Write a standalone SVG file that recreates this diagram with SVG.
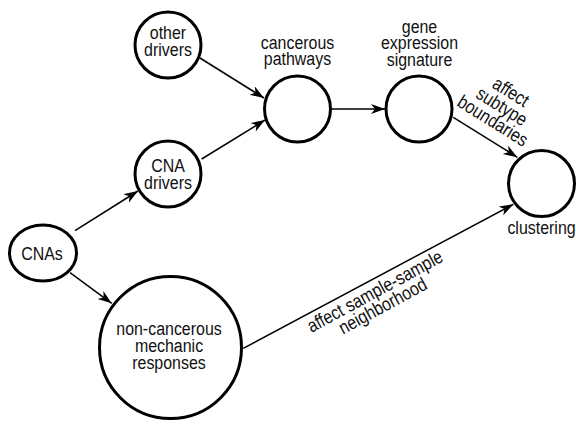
<svg xmlns="http://www.w3.org/2000/svg" width="576" height="424" viewBox="0 0 576 424">
<style>
  .node { fill: #ffffff; stroke: #000000; stroke-width: 3; }
  .lbl { font-family: "Liberation Sans", Arial, Helvetica, sans-serif; font-size: 19px; fill: #111111; text-anchor: middle; }
  .edge { fill: none; stroke: #000000; stroke-width: 1.5; marker-end: url(#arr); }
</style>
<defs>
  <marker id="arr" markerUnits="userSpaceOnUse" markerWidth="16" markerHeight="12" refX="14" refY="5" orient="auto">
    <path d="M0,0 L14,5 L0,10 L4,5 z" fill="#000000"/>
  </marker>
</defs>
<rect width="576" height="424" fill="#ffffff"/>
<g id="connectors">
  <line class="edge" x1="200" y1="58" x2="264" y2="98"/>
  <line class="edge" x1="201.7" y1="159" x2="265" y2="120"/>
  <line class="edge" x1="75" y1="230.7" x2="138" y2="191"/>
  <line class="edge" x1="70" y1="272.7" x2="111.7" y2="303.3"/>
  <line class="edge" x1="332" y1="109" x2="385" y2="109"/>
  <line class="edge" x1="453.3" y1="117.3" x2="517.3" y2="157.3"/>
  <line class="edge" x1="243.3" y1="348.3" x2="513.3" y2="204.3"/>
  <g transform="translate(501.7,106.7) rotate(32)">
    <text class="lbl" transform="translate(0,-11) scale(0.84,1)">affect</text>
    <text class="lbl" transform="translate(0,6) scale(0.84,1)">subtype</text>
    <text class="lbl" transform="translate(0,23) scale(0.84,1)">boundaries</text>
  </g>
  <g transform="translate(375,291.7) rotate(-28.5)">
    <text class="lbl" transform="translate(0,6) scale(0.84,1)">affect sample-sample</text>
    <text class="lbl" transform="translate(0,22.5) scale(0.84,1)">neighborhood</text>
  </g>
</g>
<g id="other-drivers">
  <circle class="node" cx="168" cy="45" r="33"/>
  <text class="lbl" transform="translate(168,38.5) scale(0.84,1)">other</text>
  <text class="lbl" transform="translate(168,56) scale(0.84,1)">drivers</text>
</g>
<g id="cna-drivers">
  <circle class="node" cx="168" cy="174" r="33"/>
  <text class="lbl" transform="translate(168,171.7) scale(0.84,1)">CNA</text>
  <text class="lbl" transform="translate(168,189.3) scale(0.84,1)">drivers</text>
</g>
<g id="cnas">
  <ellipse class="node" cx="43" cy="253" rx="33.5" ry="28"/>
  <text class="lbl" transform="translate(42,260) scale(0.84,1)">CNAs</text>
</g>
<g id="non-cancerous">
  <circle class="node" cx="170.5" cy="347.5" r="71"/>
  <text class="lbl" transform="translate(169,335) scale(0.84,1)">non-cancerous</text>
  <text class="lbl" transform="translate(169,352) scale(0.84,1)">mechanic</text>
  <text class="lbl" transform="translate(169,368.5) scale(0.84,1)">responses</text>
</g>
<g id="cancerous-pathways">
  <circle class="node" cx="297.5" cy="109" r="33"/>
  <text class="lbl" transform="translate(297.5,48.5) scale(0.84,1)">cancerous</text>
  <text class="lbl" transform="translate(297.5,65) scale(0.84,1)">pathways</text>
</g>
<g id="gene-expression">
  <circle class="node" cx="419" cy="109" r="33"/>
  <text class="lbl" transform="translate(419.5,32.7) scale(0.84,1)">gene</text>
  <text class="lbl" transform="translate(419.5,49.3) scale(0.84,1)">expression</text>
  <text class="lbl" transform="translate(419.5,65.5) scale(0.84,1)">signature</text>
</g>
<g id="clustering">
  <circle class="node" cx="541.5" cy="183.5" r="33"/>
  <text class="lbl" transform="translate(541.5,234) scale(0.84,1)">clustering</text>
</g>
</svg>
